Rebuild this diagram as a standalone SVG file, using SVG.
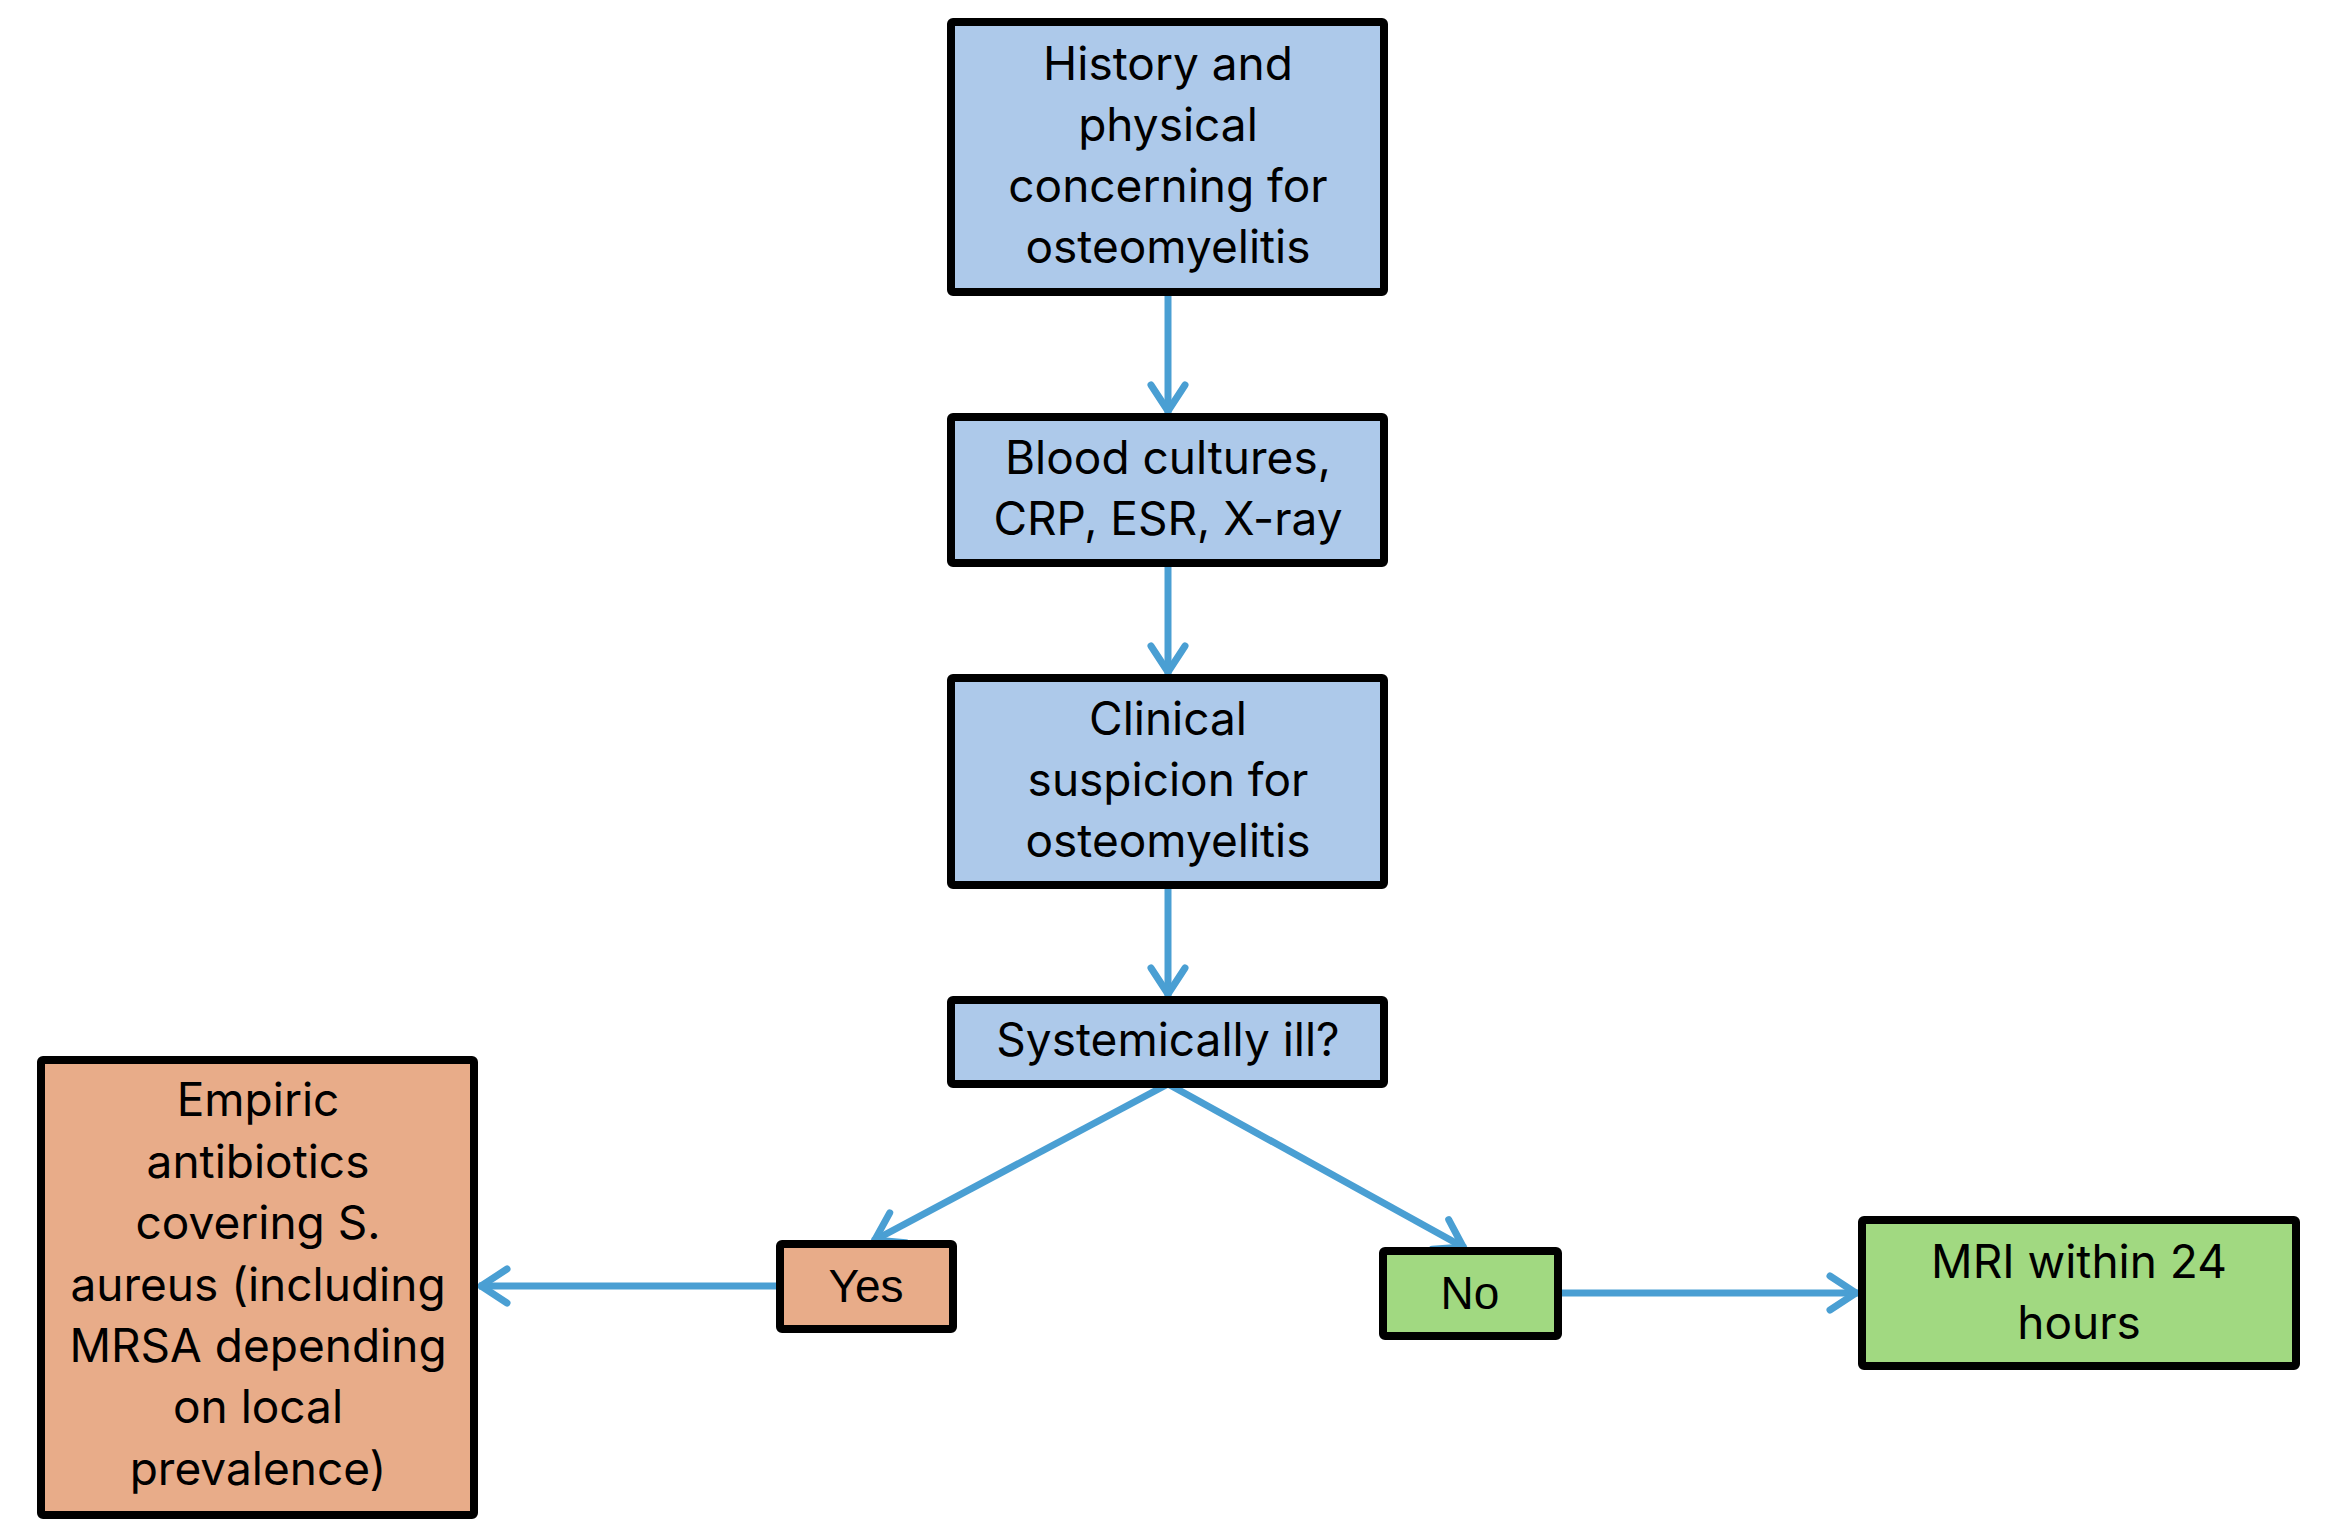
<svg xmlns="http://www.w3.org/2000/svg" width="2348" height="1534" viewBox="0 0 2348 1534">
<style>
.box{stroke:#000;stroke-width:8;stroke-linejoin:round}
.blue{fill:#adc9ea}
.orange{fill:#e8ac89}
.green{fill:#a1d981}
.t{font-family:Inter,"Noto Sans","Liberation Sans",sans-serif;font-size:46px;fill:#000;text-anchor:middle}
.n{font-family:"Liberation Sans",Arial,sans-serif;font-size:46px;fill:#000;text-anchor:middle}
.c{stroke:#4a9fd3;stroke-width:7;fill:none}
</style>
<defs>
<marker id="ah" markerUnits="userSpaceOnUse" markerWidth="60" markerHeight="60" viewBox="-40 -30 50 60" refX="0" refY="0" orient="auto">
<path d="M-28,-17 L-2,0 L-28,17" fill="none" stroke="#4a9fd3" stroke-width="7" stroke-linecap="round" stroke-linejoin="miter"/>
</marker>
</defs>
<g id="connectors">
<line class="c" x1="1168" y1="292" x2="1168" y2="413" marker-end="url(#ah)"/>
<line class="c" x1="1168" y1="563" x2="1168" y2="674" marker-end="url(#ah)"/>
<line class="c" x1="1168" y1="885" x2="1168" y2="996" marker-end="url(#ah)"/>
<line class="c" x1="1168" y1="1084" x2="873" y2="1241" marker-end="url(#ah)"/>
<line class="c" x1="1168" y1="1084" x2="1465" y2="1248" marker-end="url(#ah)"/>
<line class="c" x1="779" y1="1286" x2="479" y2="1286" marker-end="url(#ah)"/>
<line class="c" x1="1559" y1="1293" x2="1858" y2="1293" marker-end="url(#ah)"/>
</g>
<g id="n1"><rect class="box blue" x="951" y="22" width="433" height="270" rx="2"/>
<text class="t" x="1168" y="80">History and</text><text class="t" x="1168" y="141">physical</text><text class="t" x="1168" y="202">concerning for</text><text class="t" x="1168" y="263">osteomyelitis</text></g>
<g id="n2"><rect class="box blue" x="951" y="417" width="433" height="146" rx="2"/>
<text class="t" x="1168" y="474">Blood cultures,</text><text class="t" x="1168" y="535">CRP, ESR, X-ray</text></g>
<g id="n3"><rect class="box blue" x="951" y="678" width="433" height="207" rx="2"/>
<text class="t" x="1168" y="735">Clinical</text><text class="t" x="1168" y="796">suspicion for</text><text class="t" x="1168" y="857">osteomyelitis</text></g>
<g id="n4"><rect class="box blue" x="951" y="1000" width="433" height="84" rx="2"/>
<text class="t" x="1168" y="1056">Systemically ill?</text></g>
<g id="n5"><rect class="box orange" x="41" y="1060" width="433" height="455" rx="2"/>
<text class="t" x="258" y="1116">Empiric</text><text class="t" x="258" y="1178">antibiotics</text><text class="t" x="258" y="1239">covering S.</text><text class="t" x="258" y="1301">aureus (including</text><text class="t" x="258" y="1362">MRSA depending</text><text class="t" x="258" y="1423">on local</text><text class="t" x="258" y="1485">prevalence)</text></g>
<g id="n6"><rect class="box orange" x="780" y="1244" width="173" height="85" rx="2"/>
<text class="n" x="866" y="1302">Yes</text></g>
<g id="n7"><rect class="box green" x="1383" y="1251" width="175" height="85" rx="2"/>
<text class="n" x="1470" y="1309">No</text></g>
<g id="n8"><rect class="box green" x="1862" y="1220" width="434" height="146" rx="2"/>
<text class="t" x="2079" y="1278">MRI within 24</text><text class="t" x="2079" y="1339">hours</text></g>
</svg>
